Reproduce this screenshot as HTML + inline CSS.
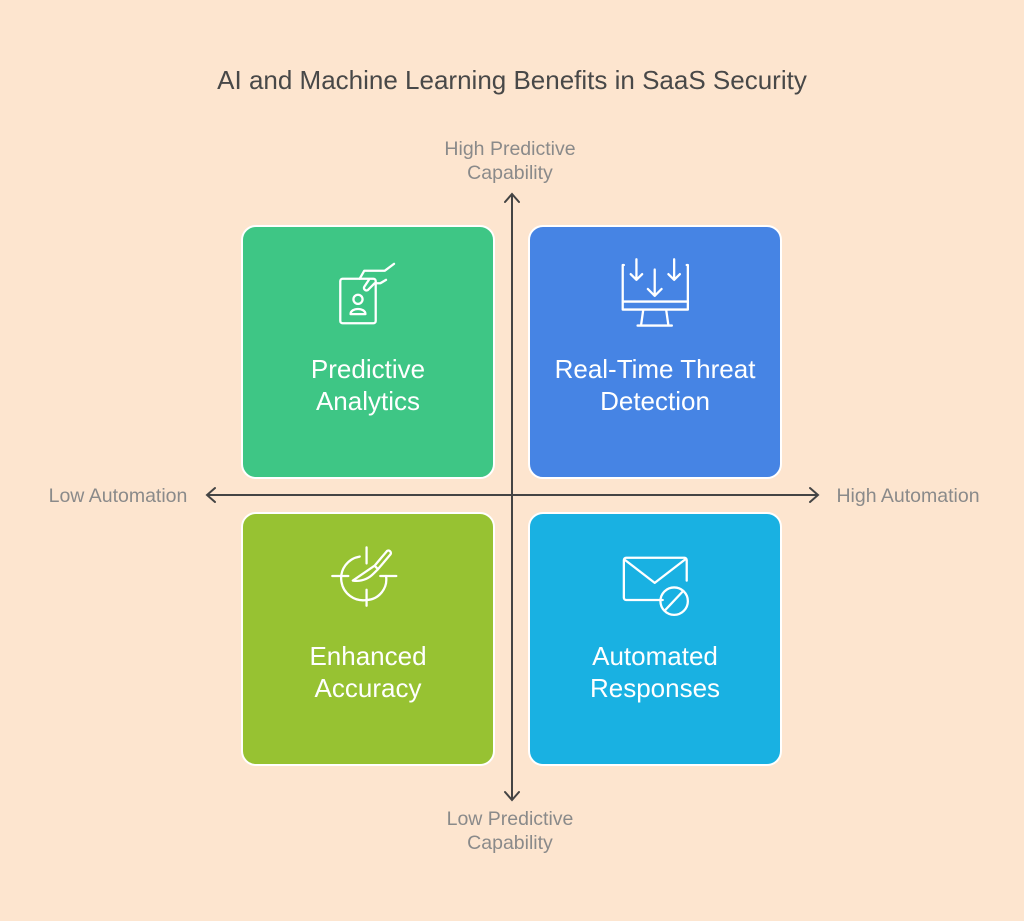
<!DOCTYPE html>
<html><head><style>
body{margin:0;width:1024px;height:921px;background:#fde5cf;font-family:"Liberation Sans",sans-serif;position:relative;overflow:hidden}
.t{position:absolute;color:#484848}
.box{position:absolute;width:250px;height:250px;border:2px solid #fff;border-radius:15px;box-sizing:content-box}
.lbl{position:absolute;left:0;right:0;top:126px;text-align:center;color:#fff;font-size:26px;line-height:32px}
.ax{position:absolute;color:#8a8a8a;font-size:19.5px;line-height:24px;text-align:center}
svg.i{position:absolute;left:87px;top:22px}
</style></head><body>
<div class="t" style="left:0;right:0;top:65px;text-align:center;font-size:26px">AI and Machine Learning Benefits in SaaS Security</div>
<div class="ax" style="left:410px;width:200px;top:137px">High Predictive<br>Capability</div>
<div class="ax" style="left:410px;width:200px;top:807px">Low Predictive<br>Capability</div>
<div class="ax" style="left:28px;width:180px;top:484px">Low Automation</div>
<div class="ax" style="left:818px;width:180px;top:484px">High Automation</div>

<div class="box" style="left:241px;top:225px;background:#3ec685"><svg class="i" width="80" height="80" viewBox="0 0 70 70" fill="none" stroke="#fff" stroke-width="2" stroke-linecap="round" stroke-linejoin="round"><rect x="9" y="26" width="31" height="39" rx="2"/><circle cx="24.5" cy="44" r="4"/><path d="M18 57c0-6 13-6 13 0z"/><path d="M26 26l4-7h18l8-6M34 27l-4 6c-1 2 1 4 3 3l6-6h5l5-3"/></svg><div class="lbl">Predictive<br>Analytics</div></div>

<div class="box" style="left:528px;top:225px;background:#4684e4"><svg class="i" width="80" height="80" viewBox="0 0 70 70" fill="none" stroke="#fff" stroke-width="2" stroke-linecap="round" stroke-linejoin="round"><path d="M6 14H5v39h57V14h-1M5 46h57M21 67l2-14h20l2 14M18 67h30"/><path d="M17 9v18l-5-5M17 27l5-5M50 9v18l-5-5M50 27l5-5M33 18v23l-6-6M33 41l6-6"/></svg><div class="lbl">Real-Time Threat<br>Detection</div></div>

<div class="box" style="left:241px;top:512px;background:#97c232"><svg class="i" width="80" height="80" viewBox="0 0 70 70" fill="none" stroke="#fff" stroke-width="2" stroke-linecap="round" stroke-linejoin="round"><path d="M32 10v14M32 47v14M2 35h14M44 35h14"/><path d="M26 18a18 18 0 0 0 6 38 18 18 0 0 0 17-21"/><path d="M20 39c7 1 13-1 18-6l4-4-3-3-19 13zM39 26l11-13c2-1 4 1 3 3L42 29"/></svg><div class="lbl">Enhanced<br>Accuracy</div></div>

<div class="box" style="left:528px;top:512px;background:#19b1e2"><svg class="i" width="80" height="80" viewBox="0 0 70 70" fill="none" stroke="#fff" stroke-width="2" stroke-linecap="round" stroke-linejoin="round"><path d="M40 56H8a2 2 0 0 1-2-2V21a2 2 0 0 1 2-2h51a2 2 0 0 1 2 2v18M7 21l26 20 26-20"/><circle cx="50" cy="57" r="12"/><path d="M42 65l16-17"/></svg><div class="lbl">Automated<br>Responses</div></div>

<svg style="position:absolute;left:0;top:0" width="1024" height="921" fill="none" stroke="#444" stroke-width="2" stroke-linecap="round">
<path d="M512 194V800M505 202l7-8 7 8M505 792l7 8 7-8M207 495H818M215 488l-8 7 8 7M810 488l8 7-8 7"/>
</svg>
</body></html>
